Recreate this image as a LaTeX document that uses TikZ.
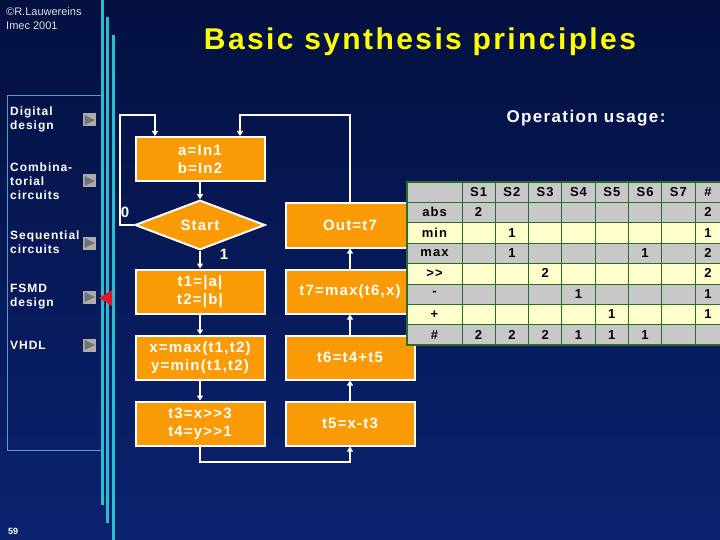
\documentclass[tikz,border=0pt]{standalone}
\usepackage{fontspec}
\setmainfont{Liberation Sans}
\newfontfamily\slidefont[LetterSpace=8]{Liberation Sans}
\usepackage{xcolor}
\usepackage{tikz}
\usetikzlibrary{shapes.geometric, arrows.meta, positioning, calc}

\definecolor{bgtop}{RGB}{4,16,64}
\definecolor{bgbot}{RGB}{10,34,112}
\definecolor{linecyan}{RGB}{40,190,205}
\definecolor{navframe}{RGB}{90,155,200}
\definecolor{boxorange}{RGB}{250,155,5}
\definecolor{titleyellow}{RGB}{255,255,0}
\definecolor{cellgray}{RGB}{200,200,200}
\definecolor{cellyellow}{RGB}{255,255,204}
\definecolor{gridgreen}{RGB}{40,110,40}
\definecolor{markred}{RGB}{230,20,40}

\tikzset{
  opbox/.style={draw=white, line width=2pt, fill=boxorange, text=white,
    font=\slidefont\bfseries\fontsize{15}{18}\selectfont,
    minimum width=129pt, minimum height=44pt, inner sep=0pt, align=center},
  flow/.style={white, line width=2pt, -{Triangle[length=5pt,width=6pt]}},
  navtext/.style={text=white, font=\slidefont\bfseries\fontsize{12}{14}\selectfont,
    anchor=west, align=left, inner sep=0pt},
  navicon/.style={fill=gray!65, minimum size=13pt, inner sep=0pt},
  cell/.style={font=\slidefont\bfseries\fontsize{13}{15}\selectfont, text=black, inner sep=0pt}
}

\begin{document}
\begin{tikzpicture}[x=1pt, y=-1pt]
% Background
\shade[top color=bgtop, bottom color=bgbot] (0,0) rectangle (720,540);
\useasboundingbox (0,0) rectangle (720,540);

% Navigation
\draw[navframe, line width=1pt] (7,96) rectangle (101,450);
\draw[linecyan, line width=3pt] (102.5,0) -- (102.5,505);
\draw[linecyan, line width=3pt] (107.5,17) -- (107.5,523);
\draw[linecyan, line width=3pt] (113.5,35) -- (113.5,540);
\foreach \t/\y [count=\i] in {{Digital\\design}/119, {Combina-\\torial\\circuits}/181,
    {Sequential\\circuits}/242, {FSMD\\design}/297, {VHDL}/345} {
  \node[navtext] (nav\i) at (10,\y) {\t};
}
\foreach \y [count=\i] in {120,181,243,297,345} {
  \node[navicon] (icon\i) at (89.5,\y) {};
  \fill[black!55] (84.5,\y-5) -- (95,\y) -- (84.5,\y+5) -- cycle;
}
\fill[markred] (99,298) -- (112,290) -- (112,306) -- cycle;

% Header
\node[anchor=west, inner sep=0pt, text=gray!25, font=\fontsize{11}{13}\selectfont] (copy) at (6,12) {©R.Lauwereins};
\node[anchor=west, inner sep=0pt, text=gray!25, font=\fontsize{11}{13}\selectfont] (imec) at (6,26) {Imec 2001};
\node[text=titleyellow, font=\slidefont\bfseries\fontsize{30}{36}\selectfont] (title) at (420,42) {Basic synthesis principles};
\node[text=white, font=\slidefont\bfseries\fontsize{17}{20}\selectfont] (opusage) at (586,118) {Operation usage:};
\node[anchor=west, inner sep=0pt, text=white, font=\bfseries\fontsize{9}{11}\selectfont] (page) at (8,531) {59};

% Flowchart
\node[opbox] (ab) at (200,159) {a=In1\\b=In2};
\node[opbox, diamond, minimum width=130pt, minimum height=43pt] (start) at (200,225) {Start};
\node[opbox] (abs) at (200,291.5) {t1=|a|\\t2=|b|};
\node[opbox] (mm) at (200,357.5) {x=max(t1,t2)\\y=min(t1,t2)};
\node[opbox] (sh) at (200,423.5) {t3=x>{}>3\\t4=y>{}>1};
\node[opbox] (out) at (350,225.5) {Out=t7};
\node[opbox] (mx) at (350,291.5) {t7=max(t6,x)};
\node[opbox] (add) at (350,357.5) {t6=t4+t5};
\node[opbox] (sub) at (350,423.5) {t5=x-t3};
\node[text=white, font=\bfseries\fontsize{15}{18}\selectfont] (zero) at (125,212) {0};
\node[text=white, font=\bfseries\fontsize{15}{18}\selectfont] (one) at (224,254) {1};

\coordinate (loopL) at (120,115);
\coordinate (loopA) at (155,115);
\coordinate (loopR) at (240,115);
\coordinate (bot) at (275,462);
\draw[flow] (ab) -- (start);
\draw[flow] (start) -- (abs);
\draw[flow] (abs) -- (mm);
\draw[flow] (mm) -- (sh);
\draw[flow] (sh.south) |- (bot) -| (sub.south);
\draw[flow] (sub) -- (add);
\draw[flow] (add) -- (mx);
\draw[flow] (mx) -- (out);
\draw[flow] (out.north) |- (loopR) -- (loopR |- ab.north);
\draw[flow] (start.west) -| (loopL) -- (loopA) -- (loopA |- ab.north);

% Operation usage table
\def\colx{{434.5,478.6,511.9,545.2,578.5,611.8,645.1,678.4,708}}
\foreach \r in {0,...,7} {
  \pgfmathtruncatemacro\odd{mod(\r,2)}
  \ifnum\r=0 \def\odd{1}\fi
  \ifnum\odd=1 \def\rc{cellgray}\else \def\rc{cellyellow}\fi
  \fill[\rc] (407,182+\r*20.4) rectangle (722,202.4+\r*20.4);
}
\foreach \r in {1,...,7} {
  \draw[gridgreen, line width=1pt] (407,182+\r*20.4) -- (722,182+\r*20.4);
}
\foreach \k in {0,...,7} {
  \draw[gridgreen, line width=1pt] (462+\k*33.3,182) -- (462+\k*33.3,345.2);
}
\draw[gridgreen, line width=1.5pt] (407,182) rectangle (722,345.2);
\foreach \s [count=\k] in {S1,S2,S3,S4,S5,S6,S7,\#} {
  \pgfmathsetmacro\cx{\colx[\k]}
  \node[cell] (head\k) at (\cx,192) {\s};
}
\foreach \op [count=\r] in {abs,min,max,>{}>,-,+,\#} {
  \node[cell] (op\r) at (434.5,191.8+\r*20.4) {\op};
}
\foreach \r/\k/\v in {1/1/2, 1/8/2, 2/2/1, 2/8/1, 3/2/1, 3/6/1, 3/8/2, 4/3/2, 4/8/2,
    5/4/1, 5/8/1, 6/5/1, 6/8/1, 7/1/2, 7/2/2, 7/3/2, 7/4/1, 7/5/1, 7/6/1} {
  \pgfmathsetmacro\cx{\colx[\k]}
  \node[cell] (val\r\k) at (\cx,191.8+\r*20.4) {\v};
}
\end{tikzpicture}
\end{document}
